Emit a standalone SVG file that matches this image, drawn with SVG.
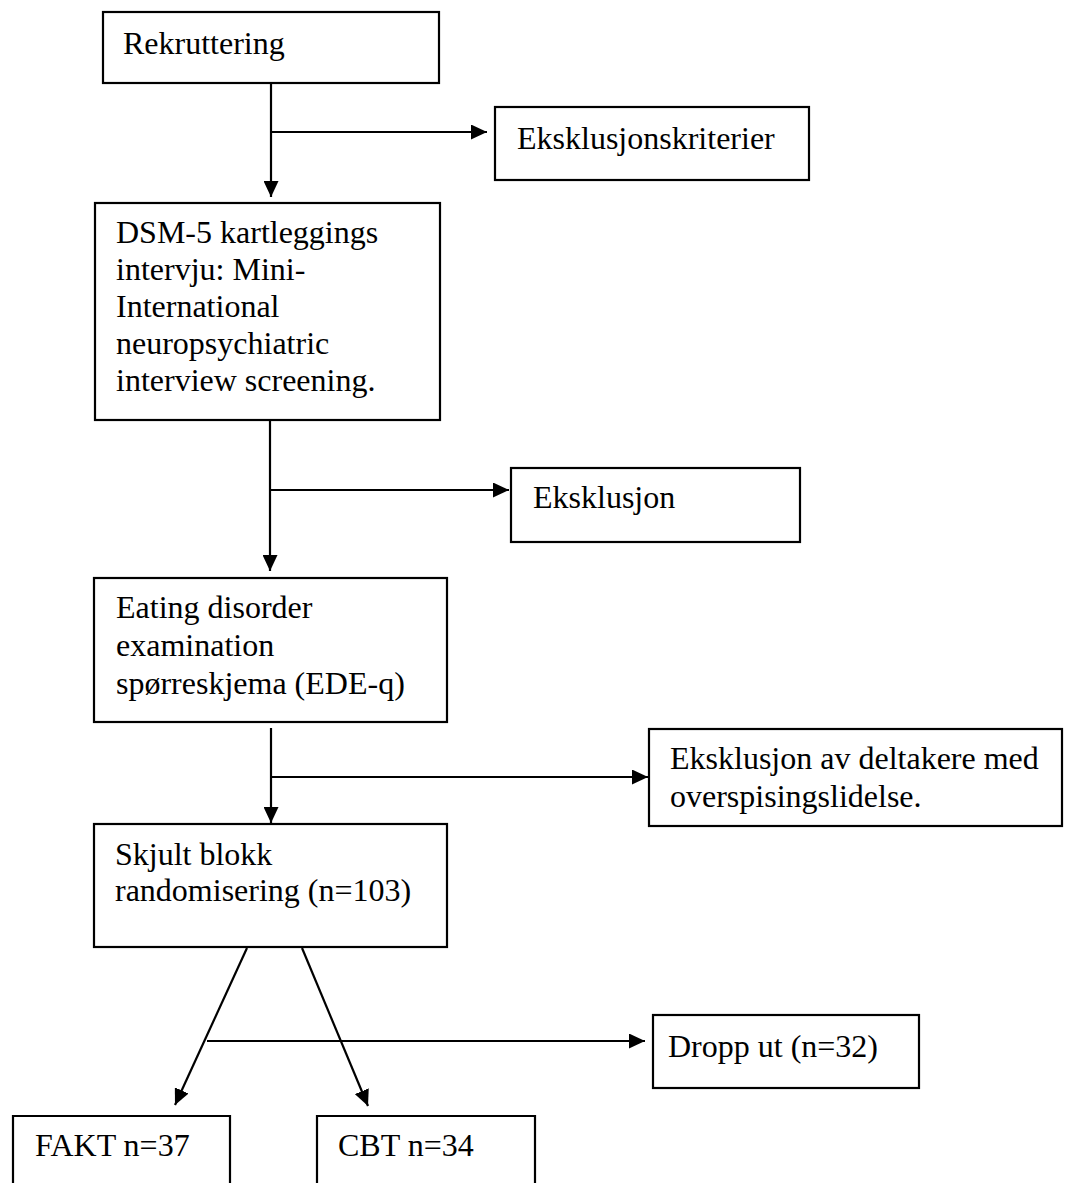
<svg xmlns="http://www.w3.org/2000/svg" width="1067" height="1183" viewBox="0 0 1067 1183">
<defs>
<style>
.box{fill:#fff;stroke:#000;stroke-width:2.2}
.t{font-family:"Liberation Serif","Times New Roman",serif;font-size:32px;fill:#000}
.c{stroke:#000;stroke-width:2.2;fill:none}
</style>
<marker id="ah" viewBox="0 0 16 15" refX="16" refY="7.5" markerWidth="16" markerHeight="15" markerUnits="userSpaceOnUse" orient="auto">
<path d="M0,0 L16,7.5 L0,15 Z" fill="#000"/>
</marker>
</defs>
<rect width="1067" height="1183" fill="#fff"/>
<g id="connectors">
<line class="c" x1="271" y1="83" x2="271" y2="197" marker-end="url(#ah)"/>
<line class="c" x1="271" y1="132" x2="487" y2="132" marker-end="url(#ah)"/>
<line class="c" x1="270" y1="420" x2="270" y2="571" marker-end="url(#ah)"/>
<line class="c" x1="270" y1="490" x2="509" y2="490" marker-end="url(#ah)"/>
<line class="c" x1="271" y1="728" x2="271" y2="823" marker-end="url(#ah)"/>
<line class="c" x1="271" y1="777" x2="648" y2="777" marker-end="url(#ah)"/>
<line class="c" x1="247" y1="948" x2="175" y2="1105" marker-end="url(#ah)"/>
<line class="c" x1="302" y1="948" x2="368" y2="1106" marker-end="url(#ah)"/>
<line class="c" x1="207" y1="1041" x2="645" y2="1041" marker-end="url(#ah)"/>
</g>
<g id="rekruttering">
<rect class="box" x="103" y="12" width="336" height="71"/>
<text class="t" x="123" y="54">Rekruttering</text>
</g>
<g id="eksklusjonskriterier">
<rect class="box" x="495" y="107" width="314" height="73"/>
<text class="t" x="517" y="149">Eksklusjonskriterier</text>
</g>
<g id="dsm5">
<rect class="box" x="95" y="203" width="345" height="217"/>
<text class="t" x="116" y="243">DSM-5 kartleggings</text>
<text class="t" x="116" y="280">intervju: Mini-</text>
<text class="t" x="116" y="317">International</text>
<text class="t" x="116" y="354">neuropsychiatric</text>
<text class="t" x="116" y="391">interview screening.</text>
</g>
<g id="eksklusjon">
<rect class="box" x="511" y="468" width="289" height="74"/>
<text class="t" x="533" y="508">Eksklusjon</text>
</g>
<g id="ede">
<rect class="box" x="94" y="578" width="353" height="144"/>
<text class="t" x="116" y="618">Eating disorder</text>
<text class="t" x="116" y="656">examination</text>
<text class="t" x="116" y="694">spørreskjema (EDE-q)</text>
</g>
<g id="eksklusjon-overspising">
<rect class="box" x="649" y="729" width="413" height="97"/>
<text class="t" x="670" y="769">Eksklusjon av deltakere med</text>
<text class="t" x="670" y="807">overspisingslidelse.</text>
</g>
<g id="randomisering">
<rect class="box" x="94" y="824" width="353" height="123"/>
<text class="t" x="115" y="865">Skjult blokk</text>
<text class="t" x="115" y="901">randomisering (n=103)</text>
</g>
<g id="dropput">
<rect class="box" x="653" y="1015" width="266" height="73"/>
<text class="t" x="668" y="1057">Dropp ut (n=32)</text>
</g>
<g id="fakt">
<path class="box" d="M13,1190 L13,1116 L230,1116 L230,1190"/>
<text class="t" x="35" y="1156">FAKT n=37</text>
</g>
<g id="cbt">
<path class="box" d="M317,1190 L317,1116 L535,1116 L535,1190"/>
<text class="t" x="338" y="1156">CBT n=34</text>
</g>
</svg>
